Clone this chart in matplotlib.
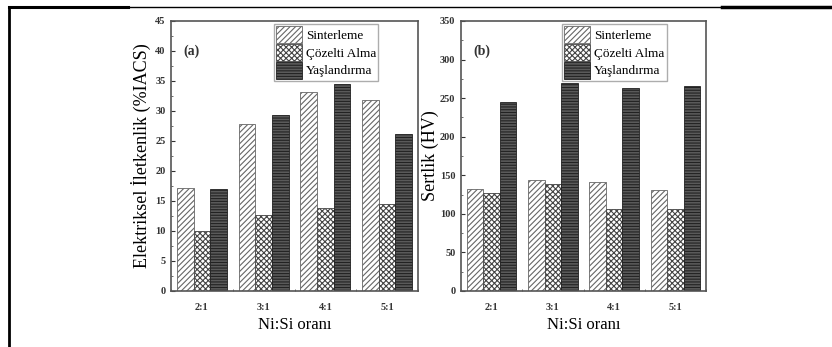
import matplotlib
matplotlib.use('Agg')
import matplotlib.pyplot as plt
from matplotlib.lines import Line2D
from matplotlib.ticker import MultipleLocator
import numpy as np

plt.rcParams['font.family'] = ['Liberation Serif', 'DejaVu Serif']
plt.rcParams['hatch.linewidth'] = 0.8

ratios = ['2:1', '3:1', '4:1', '5:1']
series = ['Sinterleme', 'Çözelti Alma', 'Yaşlandırma']

# electrical conductivity (%IACS)
cond_sinter = [17.2, 27.9, 33.2, 31.8]
cond_solution = [10.0, 12.6, 13.8, 14.5]
cond_aging = [17.0, 29.4, 34.5, 26.1]

# hardness (HV)
hard_sinter = [132, 144, 141, 131]
hard_solution = [127, 139, 106, 106]
hard_aging = [245, 269, 263, 266]

styles = [
    dict(facecolor='white', edgecolor='#666666', hatch='//////'),
    dict(facecolor='white', edgecolor='#444444', hatch='xxxxxx'),
    dict(facecolor='#5a5a5a', edgecolor='#222222', hatch='------'),
]

fig = plt.figure(figsize=(8.32, 3.47), dpi=100)
ax1 = fig.add_axes([171 / 832, 1 - 291 / 347, 247 / 832, 270 / 347])
ax2 = fig.add_axes([461 / 832, 1 - 291 / 347, 245 / 832, 270 / 347])

x = np.arange(1, len(ratios) + 1)
w = 0.27


def draw(ax, data, ymax, major, minor, ylabel, tag, ylpad):
    for i, (vals, st) in enumerate(zip(data, styles)):
        ax.bar(x + (i - 1) * w, vals, w, label=series[i], linewidth=0.6, **st)
    ax.set_xlim(0.5, 4.5)
    ax.set_ylim(0, ymax)
    ax.set_xticks(x)
    ax.set_xticklabels(ratios)
    ax.xaxis.set_minor_locator(MultipleLocator(0.5))
    ax.yaxis.set_major_locator(MultipleLocator(major))
    ax.yaxis.set_minor_locator(MultipleLocator(minor))
    ax.tick_params(axis='both', which='major', direction='in', length=3,
                   width=0.8, labelsize=7.5, colors='#333333', pad=4)
    ax.tick_params(axis='x', which='major', length=0, pad=9)
    ax.tick_params(axis='both', which='minor', direction='in', length=1.5,
                   width=0.6, colors='#555555')
    for lbl in ax.get_xticklabels() + ax.get_yticklabels():
        lbl.set_fontweight('bold')
    for sp in ax.spines.values():
        sp.set_color('#555555')
        sp.set_linewidth(1.2)
    ax.set_xlabel('Ni:Si oranı', fontsize=12, labelpad=3)
    ax.set_ylabel(ylabel, fontsize=13, labelpad=ylpad)
    ax.text(0.05, 0.875, tag, transform=ax.transAxes, fontsize=10,
            fontweight='bold', color='#333333')
    leg = ax.legend(loc='upper right', bbox_to_anchor=(0.85, 0.997),
                    fontsize=9.5, frameon=True, fancybox=False,
                    handlelength=2.0, handleheight=1.6, handletextpad=0.3,
                    borderpad=0.15, labelspacing=0.05, borderaxespad=0.2)
    leg.get_frame().set_edgecolor('#999999')
    leg.get_frame().set_linewidth(1.0)


draw(ax1, [cond_sinter, cond_solution, cond_aging], 45, 5, 2.5,
     'Elektriksel İletkenlik (%IACS)', '(a)', 3)
draw(ax2, [hard_sinter, hard_solution, hard_aging], 350, 50, 25,
     'Sertlik (HV)', '(b)', 0.5)

# page frame lines around the figure
top = 1 - 6.5 / 347
fig.add_artist(Line2D([9 / 832, 128 / 832], [top, top], color='black', lw=2.2))
fig.add_artist(Line2D([128 / 832, 722 / 832], [top, top], color='black', lw=1.0))
fig.add_artist(Line2D([722 / 832, 1], [top, top], color='black', lw=2.5))
fig.add_artist(Line2D([9 / 832, 9 / 832], [0, top], color='black', lw=2.0))

fig.savefig('out.png', dpi=100)
